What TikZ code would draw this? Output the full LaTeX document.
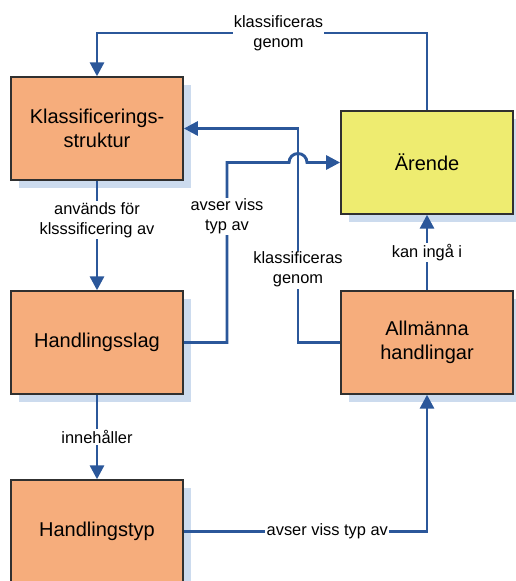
\documentclass[tikz,border=0pt]{standalone}
\usepackage{fontspec}
\setmainfont{Liberation Sans}
\usepackage{xcolor}
\usetikzlibrary{arrows.meta,calc,shadows}
\definecolor{ccBox}{HTML}{F6AD7C}
\definecolor{ccCase}{HTML}{EEEC70}
\definecolor{ccLine}{HTML}{2B579A}
\definecolor{ccShade}{HTML}{CCDBEE}
\definecolor{ccEdge}{HTML}{303030}

\begin{document}
\begin{tikzpicture}[
  x=0.75pt, y=-0.75pt,
  box/.style={draw=ccEdge, line width=1.3pt, fill=ccBox, align=center, inner sep=0pt,
    minimum width=129pt, minimum height=77pt, font=\fontsize{15}{18}\selectfont,
    general shadow={fill=ccShade, shadow xshift=6pt, shadow yshift=-6pt}},
  ca/.style={-{Triangle[length=10.5pt, width=10.5pt]}, draw=ccLine, line width=2.2pt},
  elbl/.style={font=\fontsize{12.3}{15}\selectfont, align=center, fill=white, inner sep=1pt},
]
\useasboundingbox (0,0) rectangle (516,581);
\clip (0,0) rectangle (516,581);
% boxes
\node[box] (klass) at (97,128.5) {Klassificerings-\\struktur};
\node[box, fill=ccCase] (arende) at (427,162.5) {Ärende};
\node[box] (slag) at (97,342.5) {Handlingsslag};
\node[box] (allm) at (427,342.5) {Allmänna\\handlingar};
\node[box] (typ) at (97,531.5) {Handlingstyp};
% routing columns / rows
\coordinate (toprow) at (0,33);
\coordinate (kx) at (298,0);
\coordinate (ax) at (227,0);
% connectors
\draw[ca] (arende.north) -- (arende.north |- toprow) -- node[elbl, pos=0.45]{klassificeras\\genom} (klass.north |- toprow) -- (klass.north);
\draw[ca] (allm.west) -- (allm.west -| kx) -- node[elbl, pos=0.34]{klassificeras\\genom} (klass.east -| kx) -- (klass.east);
\draw[ca] (slag.east) -- (slag.east -| ax) -- node[elbl, pos=0.70]{avser viss\\typ av} (arende.west -| ax)
  -- ($(arende.west -| kx)+(-9,0)$) arc[start angle=180, end angle=0, radius=6.75pt] -- (arende.west);
\draw[ca] (klass.south) -- node[elbl, pos=0.36]{används för\\klsssificering av} (slag.north);
\draw[ca] (allm.north) -- node[elbl]{kan ingå i} (arende.south);
\draw[ca] (slag.south) -- node[elbl]{innehåller} (typ.north);
\draw[ca] (typ.east) -- node[elbl, pos=0.59]{avser viss typ av} (typ.east -| allm.south) -- (allm.south);
\end{tikzpicture}
\end{document}
